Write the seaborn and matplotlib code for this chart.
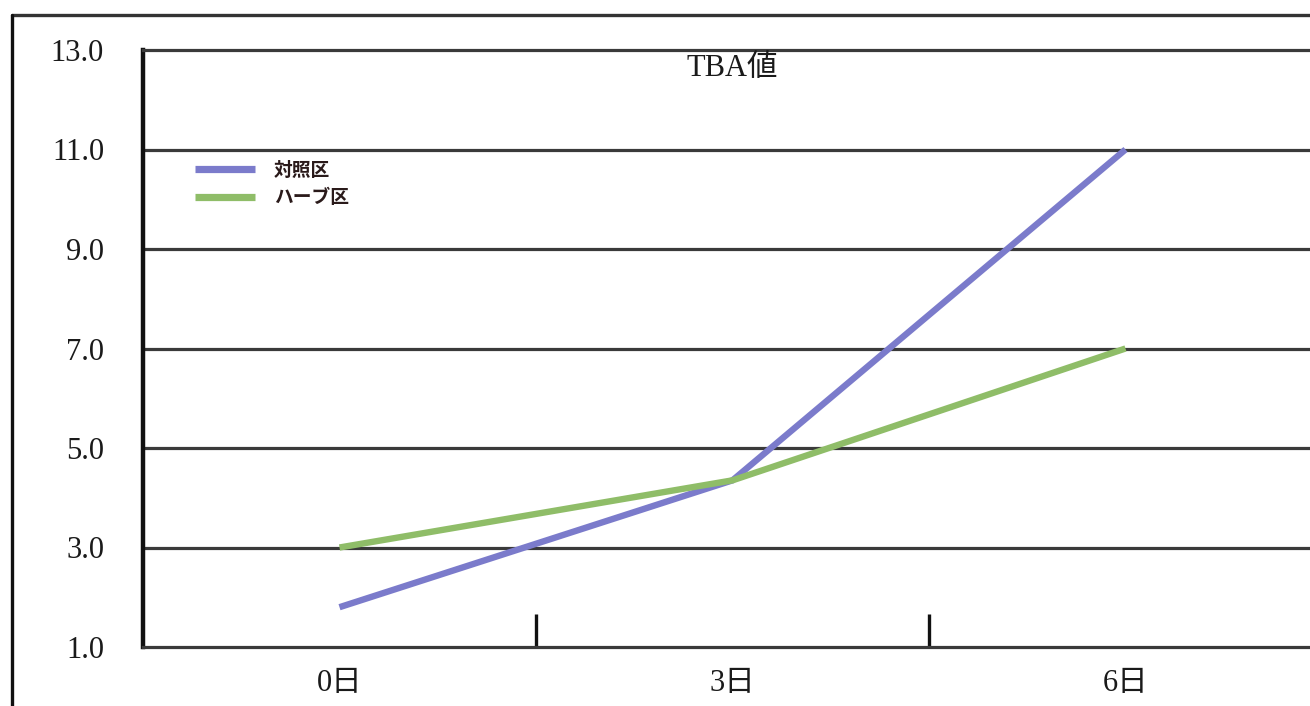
import matplotlib
matplotlib.use("Agg")
import matplotlib.pyplot as plt
from matplotlib.lines import Line2D
import seaborn as sns
import pandas as pd

# data
days = ["0日", "3日", "6日"]
control = [1.8, 4.35, 11.0]
herb = [3.0, 4.35, 7.0]
series_names = ["対照区", "ハーブ区"]
y_ticks = [1.0, 3.0, 5.0, 7.0, 9.0, 11.0, 13.0]
title = "TBA値"

df = pd.DataFrame({
    "day": days * 2,
    "value": control + herb,
    "group": [series_names[0]] * len(days) + [series_names[1]] * len(days),
})

sns.set_style("white")
plt.rcParams["font.family"] = ["Liberation Serif", "Noto Sans CJK JP", "DejaVu Sans"]

W, H = 1310, 706
fig = plt.figure(figsize=(W / 100, H / 100), dpi=100)
fig.patch.set_facecolor("white")

# plot area: left edge at x=143, category width ~393px, runs past right border
ax = fig.add_axes([143 / W, 1 - 647 / H, 1179 / W, (647 - 50) / H])

palette = {series_names[0]: "#7b7bcb", series_names[1]: "#8fbd68"}
sns.lineplot(data=df, x="day", y="value", hue="group", palette=palette,
             sort=False, linewidth=4.6, ax=ax, legend=False, zorder=3)
for ln in ax.lines:
    ln.set_solid_capstyle("butt")
    ln.set_solid_joinstyle("miter")

ax.set_xlim(-0.5, 2.5)
ax.set_ylim(1.0, 13.0)
ax.set_yticks(y_ticks)
ax.set_yticklabels([f"{v:.1f}" for v in y_ticks])
ax.set_xticks(range(len(days)))
ax.set_xticklabels(days)
ax.set_xlabel("")
ax.set_ylabel("")

# horizontal grid lines
for v in y_ticks[1:-1]:
    ax.axhline(v, color="#3a3a3a", linewidth=2.3, zorder=1)

for side in ["top", "bottom", "right"]:
    ax.spines[side].set_color("#3a3a3a")
    ax.spines[side].set_linewidth(2.3)
ax.spines["left"].set_color("#111111")
ax.spines["left"].set_linewidth(3.2)

ax.tick_params(axis="y", length=0, pad=28, labelsize=22, colors="#1a1a1a")
ax.tick_params(axis="x", which="major", length=0, pad=16, labelsize=22, colors="#1a1a1a")
ax.set_xticks([0.5, 1.5], minor=True)
ax.tick_params(axis="x", which="minor", bottom=True, direction="in", length=24,
               width=2.4, color="#111111")

ax.text(0.5, (647 - 68) / 597, title, transform=ax.transAxes, ha="center", va="center",
        fontsize=22, color="#1a1a1a")

handles = [Line2D([], [], color=palette[n], linewidth=5.2, solid_capstyle="butt")
           for n in series_names]
leg = ax.legend(handles, series_names, loc="upper left",
                bbox_to_anchor=(178 / W, 1 - 144 / H), bbox_transform=fig.transFigure,
                frameon=False, handlelength=3.2, handletextpad=1.0, labelspacing=0.45,
                prop={"family": ["Noto Sans CJK JP"], "weight": "bold", "size": 13.5})
for t in leg.get_texts():
    t.set_color("#2a1a1a")

# outer frame border
fig.add_artist(Line2D([12 / W, 1.0], [1 - 15 / H, 1 - 15 / H], transform=fig.transFigure,
                      color="#333333", linewidth=2.4))
fig.add_artist(Line2D([12 / W, 12 / W], [0.0, 1 - 15 / H], transform=fig.transFigure,
                      color="#111111", linewidth=2.4))

fig.savefig("out.png", dpi=100, facecolor="white")
